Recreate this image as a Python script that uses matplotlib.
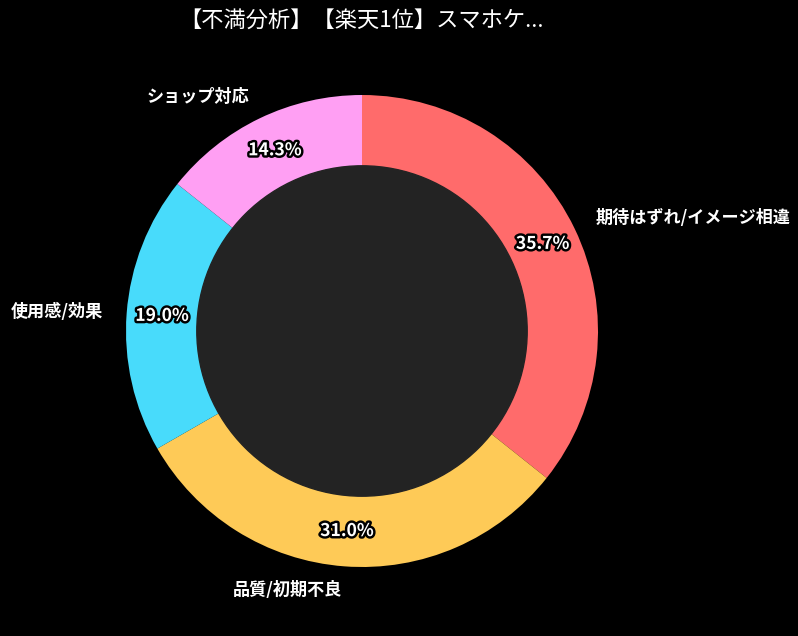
import matplotlib.pyplot as plt
import matplotlib.patheffects as pe
from matplotlib.patches import Circle

plt.rcParams["font.family"] = ["Noto Sans CJK JP", "DejaVu Sans"]

title = "【不満分析】【楽天1位】スマホケ..."
labels = ["期待はずれ/イメージ相違", "品質/初期不良", "使用感/効果", "ショップ対応"]
values = [35.7, 31.0, 19.0, 14.3]
colors = ["#FF6B6B", "#FECA57", "#48DBFB", "#FF9FF3"]

W, H = 798, 636
fig = plt.figure(figsize=(W / 100, H / 100), dpi=100, facecolor="black")

cx, cy, R = 362, 331, 236
half = 1.25 * R
ax = fig.add_axes([(cx - half) / W, (H - cy - half) / H, 2 * half / W, 2 * half / H])
ax.set_facecolor("black")

wedges, texts, autotexts = ax.pie(
    values, labels=labels, colors=colors, startangle=90, counterclock=False,
    autopct="%1.1f%%", pctdistance=0.85, labeldistance=1.1,
    textprops={"color": "white", "fontsize": 12.3, "fontweight": "bold"},
)
for t in autotexts:
    t.set_fontsize(12.6)
    t.set_path_effects([pe.withStroke(linewidth=3.5, foreground="black")])

ax.add_artist(Circle((0, 0), 0.7, color="#232323"))
ax.set_xlim(-1.25, 1.25)
ax.set_ylim(-1.25, 1.25)
ax.set_aspect("equal")
ax.axis("off")

fig.text(cx / W, 1 - 20 / H, title, color="white", fontsize=16,
         ha="center", va="center")

fig.savefig("out.png", facecolor="black")
